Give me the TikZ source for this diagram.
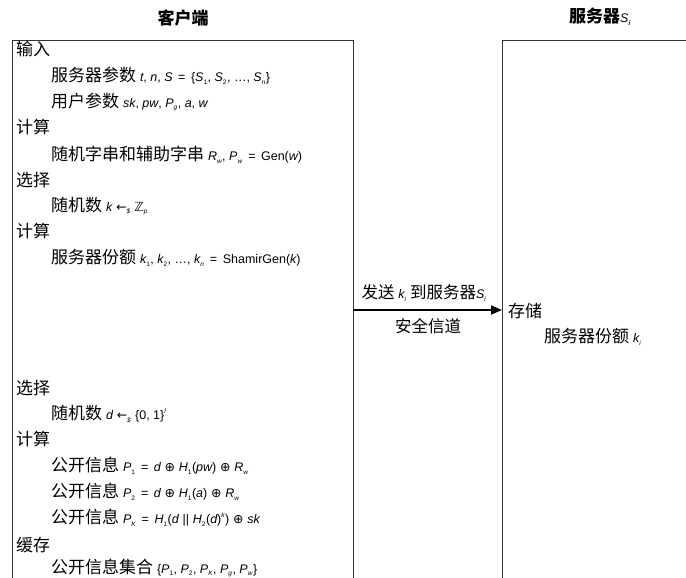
\documentclass[tikz,border=0pt]{standalone}
\usetikzlibrary{arrows.meta}
\usepackage{fontspec}
\setmainfont{Noto Sans CJK SC}
\newfontfamily\mf{Liberation Sans}
\newfontfamily\sy{DejaVu Sans}
\newcommand\mfs{\fontsize{12.5}{14}\selectfont}
\newcommand\sbs{\fontsize{6.5}{7}\selectfont}
\newcommand\mi[1]{{\mf\mfs\itshape #1}}
\newcommand\mr[1]{{\mf\mfs #1}}
\newcommand\su[1]{\textsubscript{\mf\sbs\itshape #1}}
\newcommand\sumr[1]{\textsubscript{\mf\sbs #1}}
\newcommand\sym[1]{{\sy\fontsize{12.5}{14}\selectfont #1}}
\newcommand\eq{\mr{\ \,=\ \,}}
\begin{document}
\begin{tikzpicture}[x=1pt,y=-1pt,
  every node/.style={inner sep=0pt},
  hd/.style={anchor=west, font=\fontsize{17}{19}\selectfont},
  it/.style={anchor=west, font=\fontsize{17}{19}\selectfont},
  ttl/.style={font=\fontsize{17}{19}\selectfont\bfseries},
  lane/.style={draw=black!80, line width=0.8pt},
  msg/.style={line width=1.8pt, -{Triangle[length=11pt,width=9pt]}},
  lbl/.style={font=\fontsize{16.5}{18}\selectfont}]
\useasboundingbox (0,0) rectangle (686,578);
\fill[white] (0,0) rectangle (686,578);
\begin{scope}
\clip (0,0) rectangle (686,578);
\draw[lane] (12,600) -- (12,40) -- (353,40) -- (353,600);
\draw[lane] (502,600) -- (502,40) -- (700,40);
\end{scope}
% titles
\node[ttl] (tc) at (183,18) {客户端};
\node[ttl] (ts) at (600,17) {服务器{\mf\itshape\mdseries\fontsize{12.5}{15}\selectfont S}\su{i}};
% client lines
\node[hd] (l1) at (16,49) {输入};
\node[it] (l2) at (51,76) {服务器参数 \mi{t}\mr{, }\mi{n}\mr{, }\mi{S}\eq\mr{\{}\mi{S}\sumr{1}\mr{, }\mi{S}\sumr{2}\mr{, \ldots, }\mi{S}\su{n}\mr{\}}};
\node[it] (l3) at (51,102) {用户参数 \mi{sk}\mr{, }\mi{pw}\mr{, }\mi{P}\su{g}\mr{, }\mi{a}\mr{, }\mi{w}};
\node[hd] (l4) at (16,127) {计算};
\node[it] (l5) at (51,155) {随机字串和辅助字串 \mi{R}\su{w}\mr{, }\mi{P}\su{w}\eq\mr{Gen(}\mi{w}\mr{)}};
\node[hd] (l6) at (16,180) {选择};
\node[it] (l7) at (51,206) {随机数 \mi{k} \sym{←}\su{\$} \sym{ℤ}\su{p}};
\node[hd] (l8) at (16,231) {计算};
\node[it] (l9) at (51,258) {服务器份额 \mi{k}\sumr{1}\mr{, }\mi{k}\sumr{2}\mr{, \ldots, }\mi{k}\su{n}\eq\mr{ShamirGen(}\mi{k}\mr{)}};
\node[hd] (l10) at (16,388) {选择};
\node[it] (l11) at (51,414) {随机数 \mi{d} \sym{←}\su{\$} \mr{\{0, 1\}}\textsuperscript{\mf\sbs\itshape l}};
\node[hd] (l12) at (16,439) {计算};
\node[it] (l13) at (51,466) {公开信息 \mi{P}\sumr{1}\eq\mi{d} \sym{⊕} \mi{H}\sumr{1}\mr{(}\mi{pw}\mr{)} \sym{⊕} \mi{R}\su{w}};
\node[it] (l14) at (51,492) {公开信息 \mi{P}\sumr{2}\eq\mi{d} \sym{⊕} \mi{H}\sumr{1}\mr{(}\mi{a}\mr{)} \sym{⊕} \mi{R}\su{w}};
\node[it] (l15) at (51,518) {公开信息 \mi{P}\su{K}\eq\mi{H}\sumr{1}\mr{(}\mi{d} \mr{||} \mi{H}\sumr{2}\mr{(}\mi{d}\mr{)}\textsuperscript{\mf\sbs\itshape k}\mr{)} \sym{⊕} \mi{sk}};
\node[hd] (l16) at (16,545) {缓存};
\node[it] (l17) at (51,568) {公开信息集合 \mr{\{}\mi{P}\sumr{1}\mr{, }\mi{P}\sumr{2}\mr{, }\mi{P}\su{K}\mr{, }\mi{P}\su{g}\mr{, }\mi{P}\su{w}\mr{\}}};
% message
\coordinate (cl) at (353,310);
\coordinate (sr) at (502,310);
\draw[msg] (cl) -- (sr);
\node[lbl] (m1) at (424,293) {发送 \mi{k}\su{i} 到服务器\mi{S}\su{i}};
\node[lbl] (m2) at (428,326) {安全信道};
% server lines
\node[hd] (s1) at (508,311) {存储};
\node[it] (s2) at (544,337) {服务器份额 \mi{k}\su{i}};
\end{tikzpicture}
\end{document}
